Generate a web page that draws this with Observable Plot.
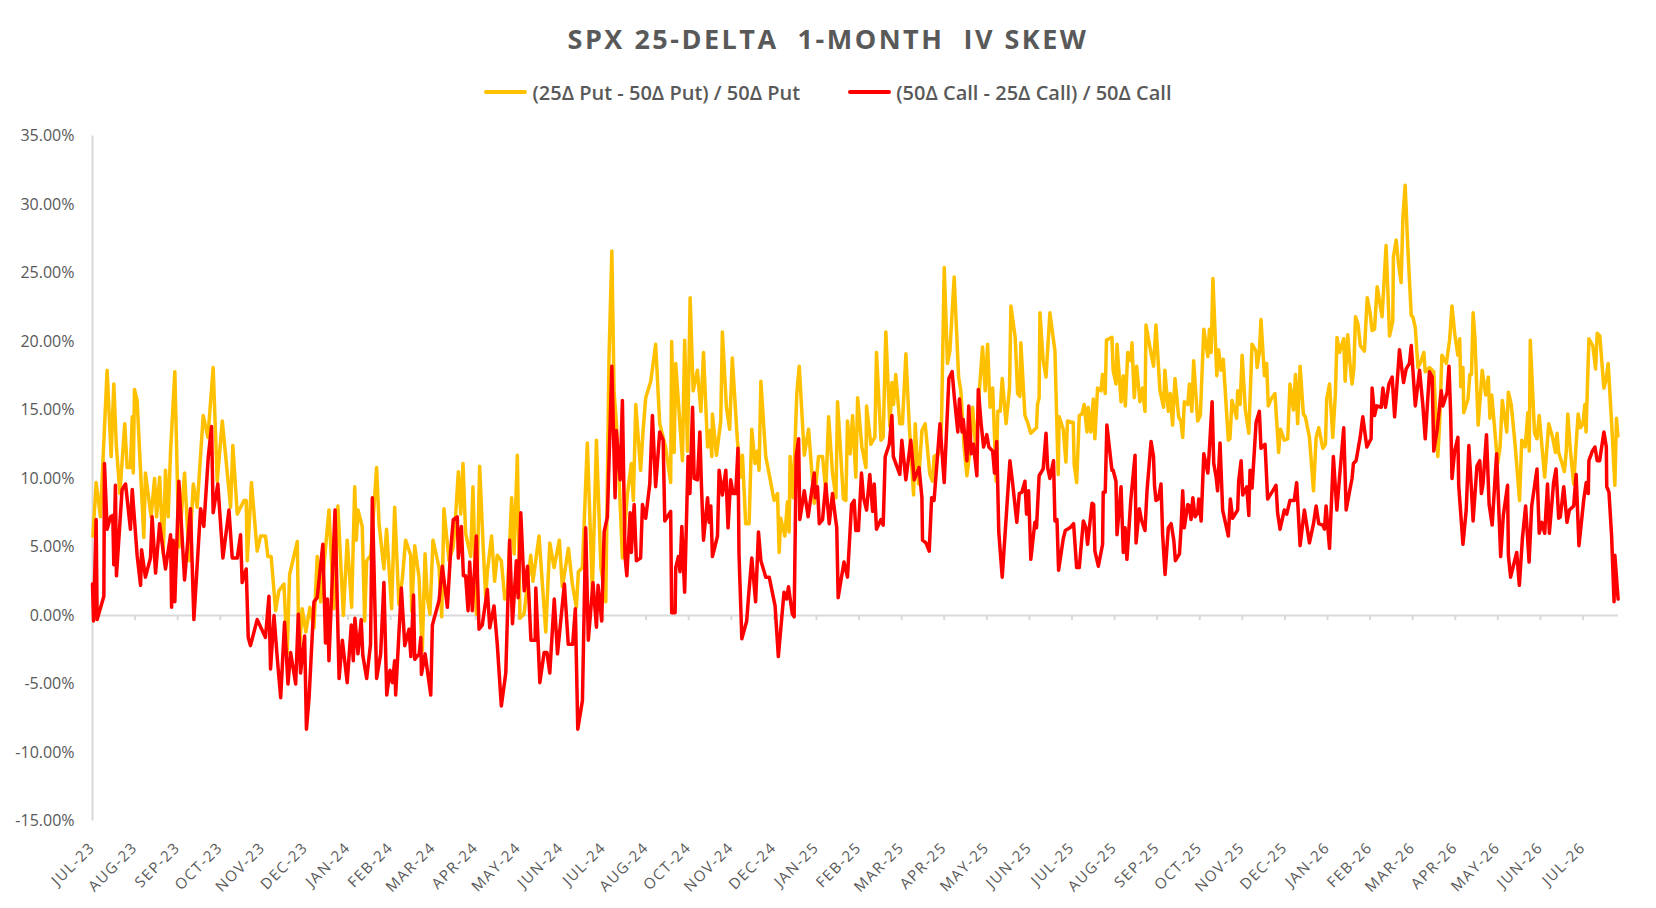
<!DOCTYPE html>
<html><head><meta charset="utf-8">
<script src="https://cdn.jsdelivr.net/npm/d3@7"></script>
<script src="https://cdn.jsdelivr.net/npm/@observablehq/plot@0.6"></script>
<style>
html,body{margin:0;padding:0;background:#fff;}
body{width:1656px;height:908px;overflow:hidden;font-family:"Open Sans",sans-serif;color:#595959;}
#title{height:76px;display:flex;align-items:center;justify-content:center;font-size:27px;font-weight:700;letter-spacing:2.5px;white-space:pre;}
#legend{height:32px;display:flex;align-items:center;justify-content:center;gap:48px;font-size:20px;font-weight:600;}
.item{display:flex;align-items:center;}
.sw{display:inline-block;width:43px;height:4px;margin-right:5px;border-radius:2px;}
#chart svg{display:block;}
#chart [aria-label="x-axis tick label"] text{letter-spacing:1.5px;}
</style></head><body>
<div id="title">SPX 25-DELTA  1-MONTH  IV SKEW</div>
<div id="legend"></div>
<div id="chart"></div>
<script>
// Series names and colours
const seriesNames = ["(25Δ Put - 50Δ Put) / 50Δ Put", "(50Δ Call - 25Δ Call) / 50Δ Call"];
const seriesColors = ["#FFC000", "#FF0000"];

// Category (month) labels, one every labelInterval trading days
const monthLabels = ["JUL-23","AUG-23","SEP-23","OCT-23","NOV-23","DEC-23","JAN-24","FEB-24","MAR-24","APR-24","MAY-24","JUN-24","JUL-24","AUG-24","OCT-24","NOV-24","DEC-24","JAN-25","FEB-25","MAR-25","APR-25","MAY-25","JUN-25","JUL-25","AUG-25","SEP-25","OCT-25","NOV-25","DEC-25","JAN-26","FEB-26","MAR-26","APR-26","MAY-26","JUN-26","JUL-26"];
const labelInterval = 21;
const lastDay = 752.5;
const yTicks = [-15,-10,-5,0,5,10,15,20,25,30,35];

// [trading day index, skew %]
const putSkew = [[0.2,5.8],[1.8,9.7],[3.9,7.2],[7.2,17.9],[9.2,11.6],[10.5,16.9],[11.8,12.3],[13.5,8.9],[15.9,14.0],[17.1,10.8],[18.7,10.8],[19.6,14.5],[20.1,10.4],[20.7,16.5],[22.0,15.7],[25.3,5.7],[26.1,10.4],[28.9,7.2],[30.6,10.0],[31.6,7.2],[33.1,10.1],[34.9,4.5],[36.0,10.6],[37.3,7.2],[38.5,12.0],[40.6,17.8],[42.6,5.0],[45.4,10.4],[47.7,4.0],[49.7,9.6],[51.6,7.9],[54.6,14.6],[56.9,13.0],[59.5,18.1],[61.5,9.8],[64.0,14.2],[68.1,7.9],[69.2,12.4],[71.4,7.4],[74.7,8.4],[75.8,8.4],[76.3,4.0],[78.4,9.7],[81.2,4.7],[82.9,5.8],[85.3,5.8],[86.5,4.3],[88.1,4.3],[90.3,0.35],[91.9,1.8],[94.4,2.3],[96.0,-2.8],[97.2,3.0],[101.0,5.4],[101.8,-3.1],[103.4,0.5],[105.2,-1.2],[107.2,0.6],[109.2,-0.9],[110.8,4.3],[112.5,1.0],[116.6,7.7],[119.0,0.5],[121.0,8.0],[123.7,0.0],[125.6,5.5],[127.8,0.6],[129.3,9.4],[130.1,5.5],[130.9,7.7],[133.0,6.5],[134.2,-0.4],[135.2,4.0],[137.2,4.4],[140.1,10.8],[141.3,6.7],[143.7,3.4],[145.0,6.3],[147.5,0.5],[149.0,7.9],[151.1,0.8],[152.8,2.7],[154.4,5.5],[156.9,4.4],[157.4,0.3],[158.9,5.1],[161.0,2.8],[162.6,-2.6],[164.0,4.5],[165.1,1.3],[166.4,0.1],[167.9,5.5],[170.9,3.5],[172.2,-0.1],[173.3,7.8],[175.8,4.0],[177.9,5.0],[179.1,7.4],[180.4,10.5],[181.6,7.4],[182.7,11.1],[184.0,6.0],[186.5,4.3],[187.6,9.4],[189.3,0.1],[190.9,10.9],[192.6,5.2],[193.9,1.3],[194.7,3.2],[196.8,5.8],[198.3,2.5],[199.6,4.4],[201.6,4.0],[203.3,1.2],[204.6,1.6],[206.7,8.6],[207.9,4.5],[209.5,11.7],[210.8,-0.2],[212.8,0.1],[216.1,4.4],[217.2,2.5],[220.2,5.8],[223.5,-1.2],[225.5,5.3],[227.6,3.5],[230.2,5.5],[231.7,2.1],[234.7,4.9],[236.6,2.3],[238.6,0.6],[239.6,3.2],[241.6,3.5],[244.0,12.6],[246.5,1.8],[248.5,12.8],[250.7,3.5],[253.1,1.0],[254.7,18.8],[256.1,26.6],[257.2,16.3],[258.3,14.1],[259.6,10.3],[261.3,4.2],[263.8,8.9],[265.7,11.1],[266.7,8.4],[267.9,15.4],[270.3,10.6],[271.5,13.5],[272.8,15.9],[275.3,17.1],[277.7,19.8],[279.7,14.0],[282.6,12.3],[285.1,9.7],[285.6,20.0],[286.8,11.9],[287.6,18.4],[290.9,11.3],[292.0,20.1],[293.4,12.0],[294.7,23.2],[296.2,16.4],[298.3,17.9],[300.0,14.9],[301.3,19.2],[303.3,12.3],[304.4,13.5],[305.4,11.6],[305.7,14.7],[307.7,11.7],[309.8,14.2],[310.6,20.7],[312.6,15.2],[314.2,13.6],[315.5,18.8],[318.0,12.8],[319.7,10.1],[320.5,11.7],[322.1,6.7],[323.8,6.7],[325.1,13.6],[326.7,11.1],[327.9,12.0],[328.7,10.6],[329.6,17.1],[332.0,11.6],[333.7,10.3],[336.1,8.4],[337.8,8.9],[338.6,4.6],[339.4,7.1],[341.4,5.8],[342.7,8.3],[343.5,6.1],[344.0,11.6],[345.5,8.6],[347.3,16.2],[348.5,18.2],[351.0,11.7],[353.1,13.6],[355.9,8.2],[358.0,11.6],[360.0,11.6],[361.6,9.1],[363.0,14.5],[364.9,10.4],[366.6,8.6],[367.4,15.6],[370.3,8.5],[371.5,8.4],[372.3,14.2],[373.6,11.8],[374.8,14.6],[376.4,10.1],[377.3,15.9],[379.4,12.3],[381.4,10.8],[381.7,15.3],[383.8,12.5],[385.8,13.0],[386.6,19.2],[388.8,12.8],[389.9,13.0],[391.2,20.7],[393.2,13.8],[394.2,17.0],[395.0,15.4],[396.1,17.6],[398.1,14.0],[399.4,14.0],[401.1,19.1],[402.7,14.0],[404.9,8.8],[405.7,14.0],[407.3,9.6],[409.0,13.5],[410.6,14.0],[412.9,10.3],[414.2,9.8],[415.0,11.6],[417.2,11.8],[418.6,13.5],[420.0,25.4],[421.6,18.4],[422.8,19.3],[424.9,24.7],[427.1,17.4],[428.2,16.4],[429.8,12.3],[431.2,10.2],[432.3,11.6],[434.0,15.2],[435.6,12.0],[437.3,16.4],[438.9,19.6],[440.2,16.4],[441.4,19.8],[442.6,15.2],[443.9,16.6],[445.6,9.8],[446.4,14.9],[447.6,14.9],[448.6,17.3],[450.5,14.0],[452.2,16.6],[452.9,22.6],[455.0,20.3],[456.2,16.2],[457.3,16.0],[457.8,19.9],[459.8,14.6],[461.1,14.1],[462.7,13.3],[465.5,13.7],[466.0,15.4],[466.8,15.9],[467.2,22.1],[468.8,18.6],[470.2,17.4],[472.1,22.1],[474.6,19.3],[476.2,10.3],[476.7,14.5],[478.7,13.6],[480.0,11.2],[480.8,14.2],[483.6,14.1],[484.1,11.0],[485.3,9.7],[486.6,14.6],[487.9,14.7],[489.0,15.4],[490.4,13.4],[491.0,15.2],[492.3,13.4],[493.5,15.8],[494.3,12.9],[495.6,16.6],[497.3,16.4],[498.1,17.6],[499.4,16.2],[500.0,20.1],[502.7,20.3],[503.3,17.9],[504.7,16.9],[505.2,19.8],[507.2,15.6],[508.3,17.5],[509.3,15.3],[510.5,19.2],[512.0,18.6],[512.6,19.9],[513.7,15.9],[514.9,18.2],[516.5,15.6],[517.8,16.6],[519.0,14.9],[519.5,21.2],[521.4,19.6],[523.2,18.2],[524.4,21.2],[526.4,16.4],[528.2,15.2],[528.8,17.9],[530.5,14.9],[531.5,16.2],[532.6,13.9],[533.8,17.3],[535.6,14.5],[536.7,14.2],[537.6,13.0],[538.4,15.6],[540.1,15.4],[540.9,16.9],[542.1,14.9],[543.0,18.6],[545.0,14.2],[546.3,14.6],[548.0,20.9],[550.0,18.9],[550.8,20.9],[551.6,19.2],[552.5,24.6],[554.4,17.5],[555.3,19.4],[556.5,17.9],[557.6,18.7],[560.1,12.8],[560.9,12.9],[561.9,15.7],[564.2,14.4],[564.7,16.4],[565.9,15.4],[566.9,19.0],[568.5,15.0],[570.2,13.3],[571.8,19.8],[573.8,19.3],[574.3,18.1],[575.4,19.2],[576.2,21.6],[577.9,17.5],[579.0,18.4],[579.8,15.3],[581.2,15.8],[583.1,16.2],[584.9,11.9],[585.8,13.6],[587.7,12.8],[589.4,12.9],[590.5,16.9],[592.2,15.0],[593.2,17.6],[594.3,14.0],[595.5,18.2],[597.1,14.7],[598.1,14.5],[600.1,13.0],[602.1,9.1],[603.4,13.0],[604.7,13.7],[606.7,12.2],[608.0,12.5],[608.6,15.8],[610.0,16.9],[611.6,13.0],[612.9,16.2],[613.7,20.3],[614.9,19.2],[617.0,20.2],[617.7,17.1],[619.0,20.5],[620.1,18.4],[621.1,16.9],[622.0,18.0],[622.8,21.8],[624.0,21.3],[625.2,19.7],[627.2,19.3],[628.6,23.2],[630.0,22.1],[631.0,20.8],[632.2,20.9],[633.5,24.0],[635.9,21.8],[637.9,27.0],[639.6,20.4],[641.2,21.5],[641.5,26.2],[642.9,27.4],[644.0,25.7],[645.3,24.3],[646.2,29.1],[647.3,31.4],[648.6,26.9],[650.3,21.9],[651.1,21.8],[652.3,21.0],[653.6,18.1],[654.7,18.4],[656.5,19.2],[657.2,17.8],[659.3,18.1],[661.4,17.8],[663.4,11.6],[664.3,14.0],[665.4,19.0],[667.6,18.4],[669.2,20.1],[670.4,22.6],[671.7,20.6],[673.3,19.0],[674.2,20.2],[674.7,16.7],[675.8,18.1],[676.2,14.8],[678.3,15.8],[679.2,17.6],[680.0,17.6],[680.8,22.1],[681.7,20.3],[683.3,13.9],[685.3,17.9],[687.0,16.1],[688.3,17.4],[689.1,14.4],[690.0,16.1],[692.9,11.1],[694.1,12.3],[695.2,15.7],[697.4,13.4],[698.2,16.3],[699.6,15.4],[701.5,12.5],[703.7,8.4],[704.8,12.8],[706.5,12.3],[707.8,14.8],[708.5,12.0],[709.0,20.1],[711.1,13.3],[712.3,12.9],[713.4,14.6],[716.1,10.1],[718.1,14.0],[720.0,13.0],[721.4,11.9],[722.2,13.3],[723.0,11.9],[724.7,11.1],[725.8,10.5],[726.7,11.9],[727.5,14.7],[728.8,12.0],[730.4,9.6],[731.6,12.5],[732.6,14.7],[733.7,13.7],[735.0,14.0],[735.9,15.4],[736.5,13.4],[737.9,20.2],[739.8,19.7],[741.2,18.0],[742.0,20.6],[743.3,20.4],[745.3,16.6],[746.4,17.2],[747.4,18.4],[749.1,14.1],[750.7,9.5],[751.5,14.4],[752.2,13.1]];

const callSkew = [[0,2.3],[0.5,-0.4],[1.8,7.0],[2.3,-0.3],[5.6,1.4],[5.9,11.1],[7.2,6.3],[8.9,7.2],[10.0,7.3],[10.5,3.7],[11.3,9.5],[11.8,2.9],[14.6,9.2],[16.3,9.6],[18.7,6.3],[19.6,9.2],[22.0,4.4],[23.7,2.2],[24.2,4.8],[26.1,2.8],[28.6,4.2],[29.4,7.2],[31.1,3.1],[33.1,6.7],[36.0,3.4],[38.5,5.9],[39.0,0.6],[39.8,5.5],[40.6,1.0],[42.6,9.8],[45.4,2.6],[48.3,7.8],[50.0,-0.3],[53.3,7.8],[54.9,6.5],[57.1,11.6],[58.7,13.8],[59.5,7.5],[61.8,9.6],[64.3,4.2],[67.3,7.7],[68.9,4.2],[71.4,4.2],[73.0,5.9],[73.8,2.4],[75.8,3.4],[76.8,-1.6],[77.9,-2.2],[81.2,-0.3],[85.3,-1.6],[87.0,1.4],[87.8,-3.9],[89.5,0.0],[91.1,-3.1],[92.8,-6.0],[94.7,-0.5],[96.4,-5.0],[97.7,-2.7],[100.2,-5.0],[101.5,0.1],[102.6,-4.2],[104.6,-1.5],[105.5,-8.3],[106.8,-6.0],[109.2,1.0],[110.8,1.3],[113.6,5.2],[114.9,-2.0],[115.8,1.2],[116.6,-3.3],[119.6,7.7],[121.6,-4.6],[123.2,-1.8],[125.6,-4.9],[127.6,-0.7],[128.6,-3.3],[129.4,-0.2],[130.9,-2.8],[132.5,-0.3],[133.3,-2.9],[135.2,-4.6],[137.1,-2.1],[138.0,8.6],[140.1,-4.6],[142.1,-2.8],[143.7,2.4],[145.1,-5.8],[146.7,-4.0],[147.9,-4.9],[149.0,-3.3],[149.5,-5.8],[152.3,2.0],[154.0,-2.2],[156.1,-1.0],[157.0,-3.0],[158.3,1.5],[158.9,-3.2],[161.1,-2.8],[161.9,-1.6],[162.2,-4.3],[164.0,-2.8],[166.8,-5.8],[167.6,-0.7],[170.9,1.1],[172.5,3.6],[175.0,0.6],[176.6,4.7],[177.9,7.0],[179.9,7.2],[180.4,4.2],[181.9,6.5],[182.9,2.9],[184.0,2.9],[185.2,0.35],[186.0,3.9],[187.3,0.35],[189.3,5.8],[190.6,-1.0],[192.2,-0.7],[194.7,1.9],[195.9,-0.9],[198.0,0.7],[199.6,-2.1],[201.6,-6.6],[203.8,-4.2],[205.7,5.5],[207.1,-0.6],[209.0,4.0],[209.9,1.3],[211.2,7.5],[212.9,1.8],[214.5,3.6],[216.2,-1.8],[218.3,-1.8],[218.6,2.0],[220.6,-4.9],[222.7,-2.7],[224.1,-2.7],[225.5,-4.2],[227.7,1.2],[229.3,-2.8],[232.7,2.3],[234.6,-2.1],[236.8,-2.1],[238.1,0.5],[239.3,-8.3],[241.6,-6.2],[243.2,6.4],[244.5,-1.8],[246.8,2.4],[248.5,-0.85],[249.3,2.2],[251.1,-0.4],[252.3,6.1],[253.9,7.2],[256.1,18.2],[257.7,8.6],[258.3,13.5],[260.2,9.9],[261.3,15.7],[262.6,4.3],[263.5,2.9],[265.1,7.5],[265.7,4.6],[267.1,8.1],[268.2,4.0],[270.3,4.2],[271.2,8.1],[272.8,7.1],[274.8,9.6],[276.1,14.6],[277.7,9.4],[279.7,13.4],[281.4,12.8],[282.2,6.9],[285.1,7.6],[285.6,0.2],[287.3,0.2],[287.6,3.5],[288.9,4.3],[289.7,3.2],[290.6,6.5],[292.0,1.7],[293.7,11.6],[294.6,8.9],[295.9,15.2],[296.7,10.0],[298.3,9.9],[299.5,13.4],[300.3,9.4],[301.3,5.5],[303.3,8.6],[304.1,6.8],[304.9,8.0],[305.7,4.3],[308.2,5.8],[309.0,10.6],[310.6,8.8],[312.3,10.6],[313.4,6.4],[314.7,9.9],[315.9,8.9],[317.2,8.9],[318.3,12.2],[318.8,4.5],[320.2,-1.7],[322.6,-0.4],[323.4,1.2],[325.1,4.2],[327.0,1.0],[328.4,6.1],[329.6,4.0],[332.0,2.8],[333.7,2.8],[336.6,0.7],[338.2,-3.0],[341.0,1.7],[342.3,1.2],[343.2,2.1],[345.1,0.1],[346.0,-0.1],[347.0,11.6],[348.2,12.9],[348.8,7.0],[351.0,9.1],[352.9,7.2],[354.2,8.6],[355.9,10.4],[356.4,8.6],[357.5,9.4],[358.4,6.7],[360.0,7.0],[361.6,9.6],[363.3,6.7],[364.9,8.9],[366.2,7.3],[367.0,6.4],[367.7,1.3],[369.0,2.5],[370.6,3.9],[372.3,2.8],[374.3,8.1],[375.6,8.4],[376.4,6.2],[377.7,6.2],[379.2,10.4],[380.2,8.6],[381.7,7.7],[383.3,10.3],[384.7,7.6],[385.5,9.6],[386.6,6.3],[388.8,7.0],[389.9,6.6],[390.9,11.6],[392.9,12.5],[394.2,14.6],[394.9,11.6],[396.1,11.1],[398.1,10.3],[399.1,12.8],[401.1,9.9],[403.5,12.8],[405.2,9.9],[407.6,10.8],[409.0,8.6],[409.3,5.5],[411.0,5.3],[412.6,4.7],[413.8,8.6],[415.0,8.4],[417.9,14.0],[420.0,9.7],[422.3,17.3],[423.9,17.8],[425.0,15.9],[426.7,13.4],[427.5,15.8],[428.8,13.4],[429.4,14.3],[431.2,11.3],[432.1,15.3],[433.3,11.8],[434.4,12.5],[436.1,10.2],[436.8,16.5],[438.2,14.0],[439.4,12.3],[441.0,13.2],[442.0,12.3],[443.9,12.0],[444.8,10.4],[445.9,12.7],[446.9,6.1],[448.6,2.8],[452.4,11.3],[453.7,9.7],[455.8,6.8],[457.0,8.9],[458.3,9.0],[459.8,9.8],[460.6,7.4],[461.6,9.1],[462.7,4.1],[464.7,6.8],[465.5,6.4],[466.8,10.2],[468.8,10.7],[470.2,13.3],[471.0,10.8],[472.1,10.0],[473.9,11.3],[474.6,6.9],[475.6,7.0],[476.4,3.3],[478.7,5.6],[479.7,6.2],[482.0,6.4],[483.8,6.7],[485.3,3.5],[486.6,3.5],[488.6,6.9],[489.9,6.4],[490.7,5.2],[492.9,8.2],[493.7,8.1],[494.3,4.7],[496.0,3.6],[498.1,5.2],[498.4,9.0],[499.4,9.0],[500.2,13.9],[502.7,10.6],[503.3,10.6],[504.7,9.8],[505.2,5.9],[507.2,9.4],[508.3,4.6],[509.2,6.4],[510.1,4.1],[512.0,8.4],[514.1,11.7],[514.6,5.3],[516.2,7.8],[517.4,6.9],[519.0,6.2],[520.0,9.1],[522.0,12.7],[523.2,11.6],[523.7,9.5],[524.4,8.4],[525.6,8.5],[526.9,9.6],[527.7,5.9],[528.9,3.0],[530.5,6.4],[531.9,6.7],[533.2,5.5],[534.0,4.0],[536.0,4.5],[536.8,6.4],[537.6,9.1],[538.4,6.4],[540.1,8.1],[540.9,8.0],[541.7,7.0],[542.6,8.6],[543.7,7.2],[545.0,7.5],[545.5,8.5],[546.7,6.9],[548.0,11.8],[550.0,10.4],[550.8,12.2],[552.1,15.6],[552.9,11.1],[554.1,10.1],[554.8,9.1],[556.0,12.6],[557.3,7.7],[560.1,5.8],[561.1,8.5],[562.2,7.1],[564.7,7.7],[565.2,9.8],[566.4,11.3],[567.2,8.8],[569.2,9.4],[570.2,7.3],[570.8,10.6],[571.8,9.3],[573.8,14.1],[575.4,14.9],[576.2,12.2],[578.2,12.5],[579.5,8.5],[582.0,9.1],[583.6,9.5],[584.4,7.5],[585.6,6.3],[587.7,7.7],[588.9,7.4],[590.5,8.4],[592.6,8.4],[593.8,9.7],[595.5,5.1],[597.6,7.7],[600.1,5.3],[602.1,6.7],[603.4,8.0],[604.7,6.7],[606.7,6.6],[607.5,6.3],[608.3,8.0],[610.0,4.9],[611.9,11.6],[613.6,7.7],[617.0,13.7],[618.2,7.7],[619.8,9.0],[621.1,10.0],[621.8,11.1],[623.1,11.3],[625.1,13.0],[626.4,14.5],[628.4,12.3],[630.5,12.9],[631.0,16.6],[632.2,14.6],[633.3,15.3],[635.5,15.2],[636.3,16.6],[637.6,15.2],[639.3,16.9],[640.9,17.4],[642.1,14.5],[644.5,19.4],[646.5,17.0],[647.8,18.0],[649.4,18.4],[650.3,19.7],[652.3,15.3],[654.4,17.9],[656.0,15.4],[657.2,12.9],[659.3,17.8],[660.6,17.4],[661.4,12.0],[663.1,13.6],[665.1,16.4],[665.9,15.3],[668.0,16.3],[668.9,18.2],[669.7,14.9],[670.4,10.0],[671.7,12.0],[673.3,13.0],[673.7,9.5],[675.8,5.2],[677.4,7.7],[678.7,12.4],[679.9,9.4],[680.8,6.9],[682.7,10.9],[684.1,11.3],[684.9,8.9],[685.7,9.6],[687.4,13.2],[688.7,8.1],[690.2,6.6],[692.4,11.8],[694.4,4.3],[695.7,7.3],[697.8,9.5],[698.2,4.4],[699.3,2.8],[701.1,3.9],[702.3,4.6],[703.6,2.2],[705.1,5.6],[706.7,8.0],[708.4,3.9],[709.7,8.0],[712.3,10.7],[713.4,6.0],[714.7,6.8],[716.1,6.0],[717.5,9.6],[718.4,6.0],[720.5,9.7],[721.7,10.7],[723.0,7.1],[723.8,7.2],[725.5,9.4],[727.1,6.8],[728.3,7.7],[730.4,8.0],[731.6,10.3],[733.0,5.1],[735.4,8.5],[736.6,9.7],[737.6,8.9],[737.9,11.3],[739.6,12.0],[740.9,12.3],[742.0,11.3],[743.2,11.3],[745.3,13.4],[746.5,12.3],[746.7,9.4],[747.8,9.0],[749.1,5.8],[750.3,1.0],[750.7,4.4],[752.3,1.2]];

// Legend
const legend = document.getElementById("legend");
seriesNames.forEach((name, i) => {
  const item = document.createElement("div");
  item.className = "item";
  const sw = document.createElement("span");
  sw.className = "sw";
  sw.style.background = seriesColors[i];
  const t = document.createElement("span");
  t.textContent = name;
  item.appendChild(sw); item.appendChild(t);
  legend.appendChild(item);
});

const put = putSkew.map(([day, v]) => ({day, v}));
const call = callSkew.map(([day, v]) => ({day, v}));
const tickDays = monthLabels.map((_, i) => i * labelInterval);
const axisColor = "#d9d9d9";

const chart = Plot.plot({
  width: 1656,
  height: 800,
  marginLeft: 92,
  marginRight: 38,
  marginTop: 27.5,
  marginBottom: 87.5,
  style: {fontFamily: "'Open Sans', sans-serif", fontSize: "16px", color: "#595959", background: "#fff", overflow: "visible"},
  x: {domain: [0, lastDay], axis: null},
  y: {domain: [-15, 35], axis: null},
  marks: [
    Plot.axisY({ticks: yTicks, tickFormat: d => d.toFixed(2) + "%", tickSize: 0, tickPadding: 18, fontSize: 16, label: null}),
    Plot.axisX({ticks: tickDays, tickFormat: d => monthLabels[Math.round(d / labelInterval)], tickSize: 0, tickPadding: 24, tickRotate: -45, fontSize: 15, label: null}),
    Plot.ruleX([0], {stroke: axisColor, strokeWidth: 2}),
    Plot.ruleY([0], {stroke: axisColor, strokeWidth: 2}),
    Plot.ruleX(tickDays.slice(1), {x: d => d, y1: 0, y2: 0, insetBottom: -5, stroke: axisColor, strokeWidth: 2}),
    Plot.line(put, {x: "day", y: "v", stroke: seriesColors[0], strokeWidth: 3.5, strokeLinejoin: "round"}),
    Plot.line(call, {x: "day", y: "v", stroke: seriesColors[1], strokeWidth: 3.5, strokeLinejoin: "round"})
  ]
});
document.getElementById("chart").appendChild(chart);
</script>
</body></html>
